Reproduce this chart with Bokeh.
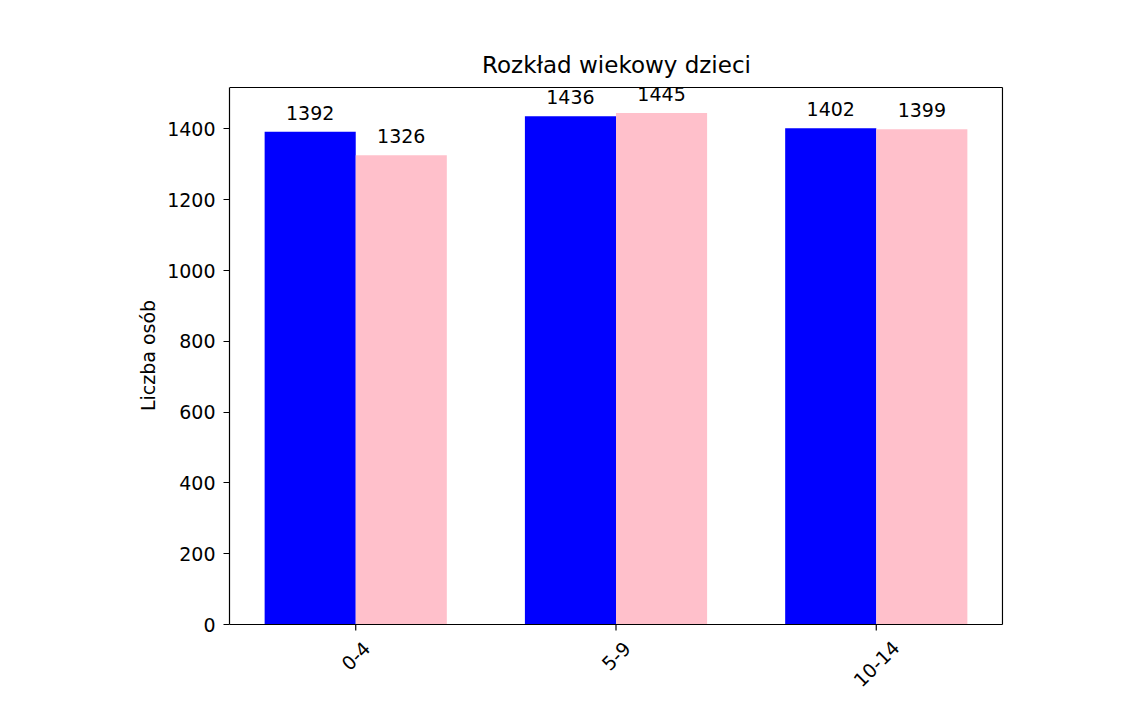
import math
from bokeh.plotting import figure
from bokeh.models import ColumnDataSource, FixedTicker, Range1d, Title
from bokeh.embed import file_html
from bokeh.resources import INLINE
from bokeh.core.properties import value

categories = ["0-4", "5-9", "10-14"]
boys = [1392, 1436, 1402]
girls = [1326, 1445, 1399]
y_ticks = [0, 200, 400, 600, 800, 1000, 1200, 1400]
y_label = "Liczba osób"

FONT = "DejaVu Sans"
FS = 19
W, H = 1124, 697
LEFT = 229
AX_W, AX_H = 773, 537          # size of the boxed axes area in px
TOP = 86                       # frame starts 1px above the box
BELOW = 72                     # px of frame kept under y=0 for the category labels
BOTTOM = H - TOP - 1 - AX_H - BELOW
RIGHT = W - LEFT - AX_W - 1

bar_w = 0.35
xs = list(range(len(categories)))
x_boys = [x - bar_w / 2 for x in xs]
x_girls = [x + bar_w / 2 for x in xs]

x_lo, x_hi = -0.485, len(categories) - 1 + 0.485
ymax = max(boys + girls) * 1.05
kx = AX_W / (x_hi - x_lo)
ky = AX_H / ymax

src_b = ColumnDataSource(dict(x=x_boys, top=boys, lab=[str(v) for v in boys]))
src_g = ColumnDataSource(dict(x=x_girls, top=girls, lab=[str(v) for v in girls]))

p = figure(width=W, height=H, output_backend="svg", toolbar_location=None,
           x_range=Range1d(x_lo, x_hi + 1 / kx),
           y_range=Range1d(-BELOW / ky, ymax + 1 / ky), x_axis_location=None,
           min_border_left=LEFT, min_border_right=RIGHT, min_border_top=TOP, min_border_bottom=BOTTOM,
           title="Rozkład wiekowy dzieci")

p.vbar(x="x", top="top", width=bar_w, bottom=0, source=src_b, fill_color="#0000ff", line_color=None)
p.vbar(x="x", top="top", width=bar_w, bottom=0, source=src_g, fill_color="#ffc0cb", line_color=None)

for src in (src_b, src_g):
    p.text(x="x", y="top", text="lab", source=src, text_align="center", text_baseline="bottom",
           y_offset=-12, text_font=value(FONT), text_font_size=f"{FS}px", text_color="#000000")

# axes box (top, right, bottom edges; the left edge is the y axis line)
p.segment(x0=[x_lo, x_hi, x_lo], y0=[ymax, 0, 0], x1=[x_hi, x_hi, x_hi], y1=[ymax, ymax, 0],
          line_color="#000000", line_width=1.2)

# x ticks and rotated category labels centred under each tick
offs = []
for c in categories:
    w = len(c) * 0.58 * FS
    offs.append(12 + 0.3536 * (w + FS * 1.15))
lab_src = ColumnDataSource(dict(x=xs, y=[0] * len(xs), y1=[-6 / ky] * len(xs),
                                text=categories, off=offs))
p.segment(x0="x", y0="y", x1="x", y1="y1", source=lab_src, line_color="#000000", line_width=1.2)
p.text(x="x", y="y", text="text", y_offset="off", source=lab_src, angle=math.pi / 4,
       text_align="center", text_baseline="middle", text_font=value(FONT),
       text_font_size=f"{FS}px", text_color="#000000")

p.title.align = "center"
p.title.text_font = FONT
p.title.text_font_size = "23px"
p.title.text_font_style = "normal"
p.title.text_color = "#000000"
p.title.standoff = 18

p.xgrid.visible = False
p.ygrid.visible = False
p.outline_line_color = None

p.yaxis.ticker = FixedTicker(ticks=y_ticks)
p.yaxis.bounds = (0, ymax)
ax = p.yaxis[0]
ax.axis_line_color = "#000000"
ax.axis_line_width = 1.2
ax.major_tick_line_color = "#000000"
ax.major_tick_in = 0
ax.major_tick_out = 6
ax.minor_tick_line_color = None
ax.major_label_text_font = FONT
ax.major_label_text_font_size = f"{FS}px"
ax.major_label_text_color = "#000000"
ax.major_label_standoff = 8

# y axis label, centred on the 0..ymax span of the axis (not on the taller frame)
label_len = 5.8 * FS
y_off = BELOW + AX_H / 2 - label_len / 2
p.add_layout(Title(text=y_label, align="left", offset=y_off, standoff=11, text_font=FONT,
                   text_font_size=f"{FS}px", text_font_style="normal", text_color="#000000"), "left")

open("out.html", "w").write(file_html(p, INLINE))
